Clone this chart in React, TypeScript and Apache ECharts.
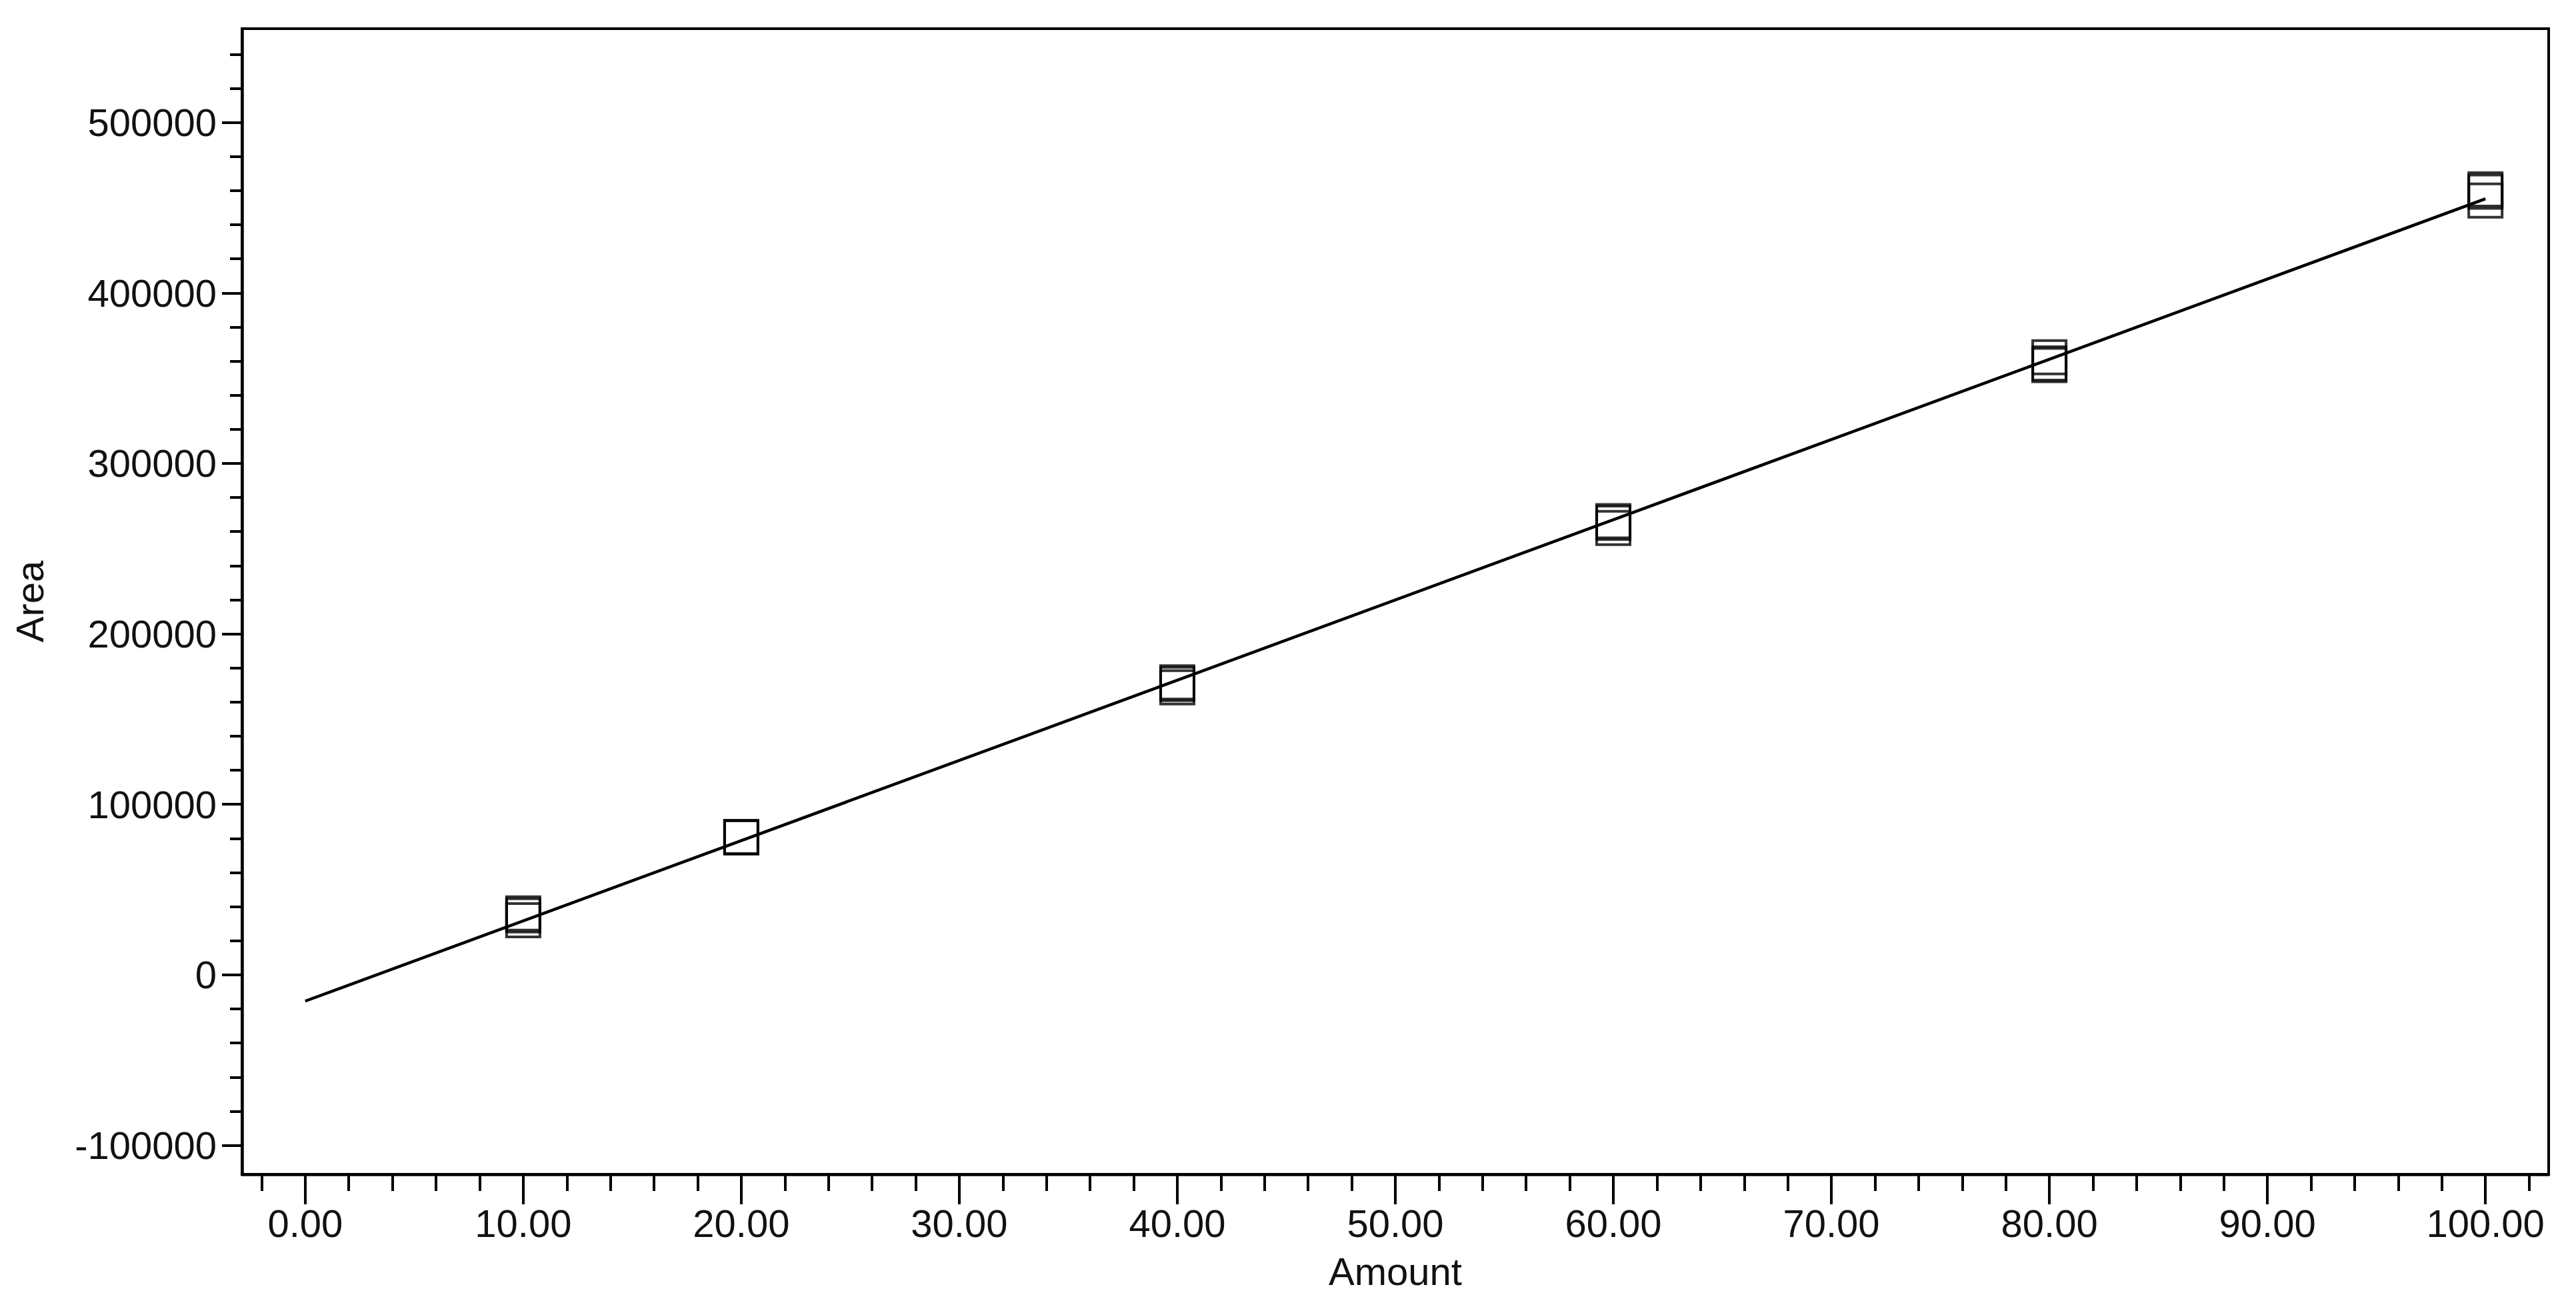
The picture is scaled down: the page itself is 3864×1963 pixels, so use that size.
import React, { useEffect, useRef } from "react";
import * as echarts from "echarts";

// Calibration levels (Amount) and replicate peak areas
const levels = [10, 20, 40, 60, 80, 100];
const rep1 = [36000, 80800, 171600, 266100, 362300, 460700];
const rep2 = [34900, 80700, 170600, 265200, 358600, 459400];
const rep3 = [32000, 80600, 168600, 262100, 357700, 454200];

// Regression line end points
const fitX = [0, 100];
const fitY = [-15400, 455200];

// Axis ticks
const xMajor = [0, 10, 20, 30, 40, 50, 60, 70, 80, 90, 100];
const xMinor = [-2, 2, 4, 6, 8, 12, 14, 16, 18, 22, 24, 26, 28, 32, 34, 36, 38, 42, 44, 46, 48, 52, 54, 56, 58, 62, 64, 66, 68, 72, 74, 76, 78, 82, 84, 86, 88, 92, 94, 96, 98, 102];
const yMajor = [-100000, 0, 100000, 200000, 300000, 400000, 500000];
const yMinor = [-80000, -60000, -40000, -20000, 20000, 40000, 60000, 80000, 120000, 140000, 160000, 180000, 220000, 240000, 260000, 280000, 320000, 340000, 360000, 380000, 420000, 440000, 460000, 480000, 520000, 540000];

const X_MIN = -2.9;
const X_MAX = 102.9;
const Y_MIN = -117000;
const Y_MAX = 555000;

const FONT = "Liberation Sans";
const TEXT = "#111";

export default function App() {
  const ref = useRef<HTMLDivElement>(null);
  useEffect(() => {
    document.body.style.margin = "0";
    if (!ref.current) return;
    const chart = echarts.init(ref.current, undefined, { renderer: "svg" });

    const points: number[][] = [];
    levels.forEach((lv, i) => {
      points.push([lv, rep1[i]]);
      points.push([lv, rep2[i]]);
      points.push([lv, rep3[i]]);
    });
    const line = fitX.map((x, i) => [x, fitY[i]]);

    const axisLine = { show: true, onZero: false, lineStyle: { color: "#000", width: 4.5 } };
    const tickStyle = { color: "#000", width: 4 };

    chart.setOption({
      animation: false,
      backgroundColor: "#fff",
      grid: {
        left: 363,
        top: 43,
        right: 41,
        bottom: 202,
        show: true,
        borderColor: "#000",
        borderWidth: 4,
        containLabel: false,
      },
      xAxis: [
        {
          type: "value",
          min: X_MIN,
          max: X_MAX,
          position: "bottom",
          name: "Amount",
          nameLocation: "middle",
          nameGap: 116,
          nameTextStyle: { fontFamily: FONT, fontSize: 58, color: TEXT },
          axisLine,
          axisTick: { show: true, length: 45, customValues: xMajor, lineStyle: tickStyle },
          axisLabel: {
            show: true,
            customValues: xMajor,
            margin: 44,
            fontFamily: FONT,
            fontSize: 58,
            color: TEXT,
            formatter: (v: number) => v.toFixed(2),
          },
          splitLine: { show: false },
        },
        {
          type: "value",
          min: X_MIN,
          max: X_MAX,
          position: "bottom",
          axisLine: { show: false, onZero: false },
          axisTick: { show: true, length: 25, customValues: xMinor, lineStyle: tickStyle },
          axisLabel: { show: false },
          splitLine: { show: false },
        },
      ],
      yAxis: [
        {
          type: "value",
          min: Y_MIN,
          max: Y_MAX,
          position: "left",
          name: "Area",
          nameLocation: "middle",
          nameGap: 290,
          nameTextStyle: { fontFamily: FONT, fontSize: 58, color: TEXT },
          axisLine,
          axisTick: { show: true, length: 30, customValues: yMajor, lineStyle: tickStyle },
          axisLabel: {
            show: true,
            customValues: yMajor,
            margin: 38,
            fontFamily: FONT,
            fontSize: 58,
            color: TEXT,
            formatter: (v: number) => String(v),
          },
          splitLine: { show: false },
        },
        {
          type: "value",
          min: Y_MIN,
          max: Y_MAX,
          position: "left",
          axisLine: { show: false, onZero: false },
          axisTick: { show: true, length: 18, customValues: yMinor, lineStyle: tickStyle },
          axisLabel: { show: false },
          splitLine: { show: false },
        },
      ],
      series: [
        {
          type: "scatter",
          xAxisIndex: 0,
          yAxisIndex: 0,
          data: points,
          symbol: "rect",
          symbolSize: 50,
          itemStyle: { color: "rgba(0,0,0,0)", borderColor: "#000", borderWidth: 4 },
          z: 2,
        },
        {
          type: "line",
          xAxisIndex: 0,
          yAxisIndex: 0,
          data: line,
          showSymbol: false,
          symbol: "none",
          lineStyle: { color: "#000", width: 4.5 },
          z: 3,
        },
      ],
    });
    return () => chart.dispose();
  }, []);
  return <div ref={ref} style={{ width: 3864, height: 1963 }} />;
}
